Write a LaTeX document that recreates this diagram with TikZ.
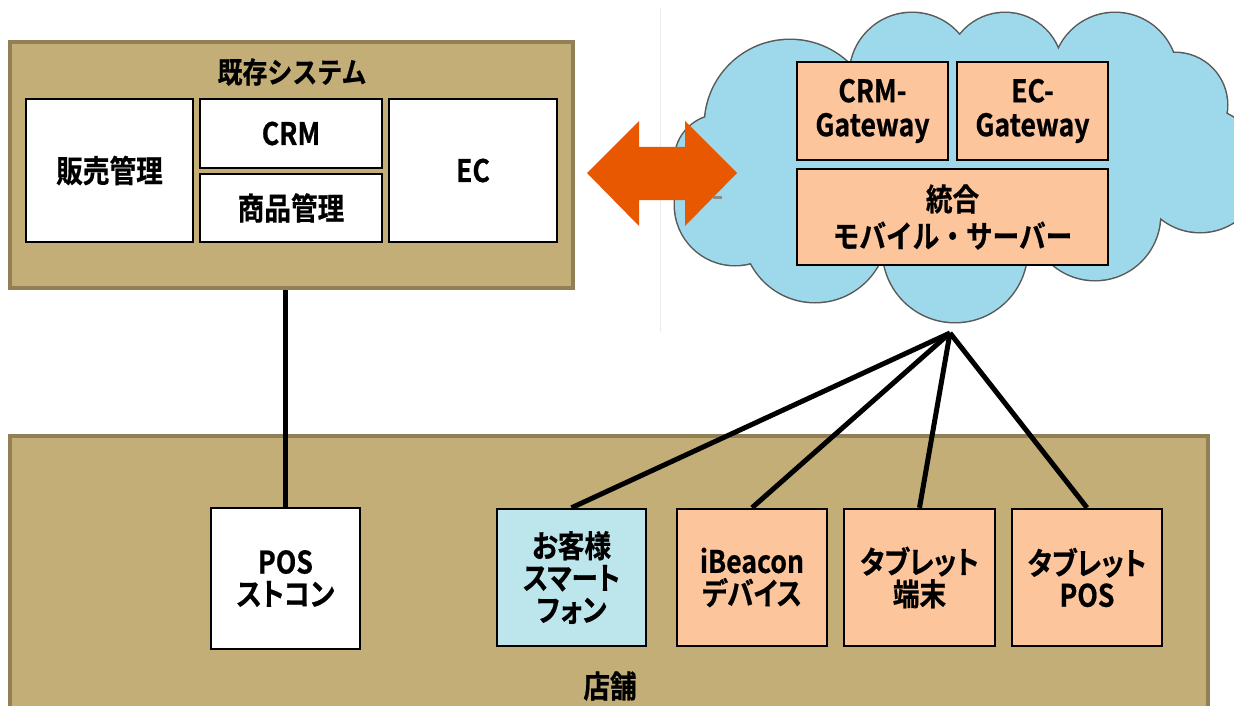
\documentclass[tikz,border=0pt]{standalone}
\usepackage{fontspec}
\setmainfont{Noto Sans CJK JP}[BoldFont={Noto Sans CJK JP Bold},BoldFeatures={FakeStretch=0.86,FakeBold=0.6},FakeStretch=0.86]
\definecolor{tanfill}{HTML}{C4AE78}
\definecolor{tanline}{HTML}{918055}
\definecolor{peach}{HTML}{FCC59C}
\definecolor{cloudblue}{HTML}{9DD9EA}
\definecolor{custblue}{HTML}{BDE6EC}
\definecolor{arroworange}{HTML}{E85800}
\begin{document}
\begin{tikzpicture}[x=1pt,y=-1pt,
  txt/.style={font=\fontsize{31}{32}\selectfont\bfseries, align=center, inner sep=0pt},
  area/.style={draw=tanline, line width=4pt, fill=tanfill, inner sep=0pt},
  wbox/.style={draw=black, line width=2.5pt, fill=white, inner sep=0pt, txt},
  pbox/.style={wbox, fill=peach},
  cbox/.style={wbox, fill=custblue},
  narrow/.style={font=\fontsize{31}{32}\selectfont\bfseries\addfontfeatures{RawFeature=+palt}},
  wire/.style={draw=black, line width=5pt}
]
\useasboundingbox (0,0) rectangle (1234,706);
\clip (0,0) rectangle (1234,706);
\fill[white] (0,0) rectangle (1234,706);
% faint slide edge
\draw[black!8, line width=1pt] (660,8) -- (660,332);

% cloud
\def\lobes{(790,125) circle (85) (912,75) circle (62) (1005,70) circle (57) (1115,75) circle (62)
 (1175,105) circle (52) (1200,170) circle (62) (1095,215) circle (65) (955,250) circle (72)
 (815,230) circle (72) (735,205) circle (60) (720,160) circle (45)}
\draw[black!65, line width=3pt] \lobes;
\fill[cloudblue] \lobes;
\fill[cloudblue] (750,90) rectangle (1150,240);
\draw[black!45, line width=3pt] (713,197) -- (722,197);

% existing system
\node[area, minimum width=563, minimum height=246] (sys) at (291.5,165) {};
\node[txt, font=\fontsize{29}{32}\selectfont\bfseries] (systitle) at (292,72) {既存システム};
\node[wbox, minimum width=167, minimum height=143] (hanbai) at (109.5,170.5) {販売管理};
\node[wbox, minimum width=182, minimum height=69] (crm) at (291,133.5) {CRM};
\node[wbox, minimum width=182, minimum height=68] (shohin) at (291,208) {商品管理};
\node[wbox, minimum width=168, minimum height=143] (ec) at (473,170.5) {EC};

% cloud contents
\node[pbox, minimum width=151, minimum height=98, font=\fontsize{31}{34}\selectfont\bfseries] (crmgw) at (872.5,111) {CRM-\\Gateway};
\node[pbox, minimum width=151, minimum height=98, font=\fontsize{31}{34}\selectfont\bfseries] (ecgw) at (1032.5,111) {EC-\\Gateway};
\node[pbox, minimum width=311, minimum height=96, font=\fontsize{31}{37}\selectfont\bfseries] (togo) at (952.5,217) {統合\\モバイル・サーバー};

% double arrow
\fill[arroworange] (587,173) -- (639,121) -- (639,147) -- (685,147) -- (685,121) -- (737,173)
  -- (685,226) -- (685,200) -- (639,200) -- (639,226) -- cycle;

% store
\node[area, minimum width=1198, minimum height=284] (store) at (609,578) {};
\node[txt] (storetitle) at (610,686) {店舗};
\node[wbox, narrow, minimum width=149, minimum height=141] (pos) at (285.5,578.5) {POS\\ストコン};
\node[cbox, narrow, minimum width=149, minimum height=137] (cust) at (571.5,577.5) {お客様\\スマート\\フォン};
\node[pbox, narrow, minimum width=150, minimum height=137] (ibeacon) at (752,577.5) {iBeacon\\デバイス};
\node[pbox, narrow, minimum width=151, minimum height=137] (tabt) at (919.5,577.5) {タブレット\\端末};
\node[pbox, narrow, minimum width=150, minimum height=137] (tabpos) at (1087,577.5) {タブレット\\POS};

% connectors
\coordinate (apex) at (950,333);
\draw[wire] (pos.north |- sys.south) -- (pos.north);
\draw[wire] (apex) -- (cust.north);
\draw[wire] (apex) -- (ibeacon.north);
\draw[wire] (apex) -- (tabt.north);
\draw[wire] (apex) -- (tabpos.north);
\end{tikzpicture}
\end{document}
